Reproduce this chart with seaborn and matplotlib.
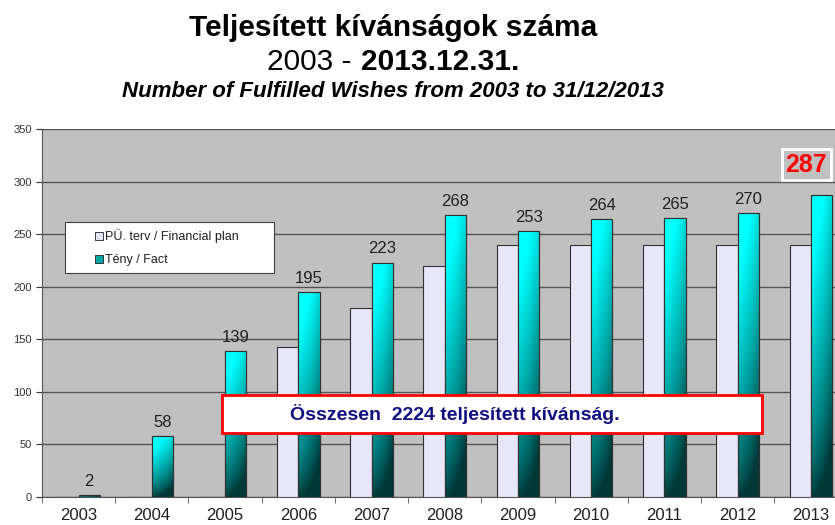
import numpy as np
import pandas as pd
import matplotlib
matplotlib.use('Agg')
import matplotlib.pyplot as plt
import seaborn as sns
from matplotlib.patches import Rectangle, Patch

years = ['2003', '2004', '2005', '2006', '2007', '2008', '2009', '2010', '2011', '2012', '2013']
terv = [0, 0, 0, 143, 180, 220, 240, 240, 240, 240, 240]
teny = [2, 58, 139, 195, 223, 268, 253, 264, 265, 270, 287]
lbl_terv = 'PÜ. terv / Financial plan'
lbl_teny = 'Tény / Fact'

df = pd.DataFrame({
    'ev': years * 2,
    'sor': [lbl_terv] * len(years) + [lbl_teny] * len(years),
    'db': terv + teny,
})

sns.set_style('white')
plt.rcParams['font.family'] = ['Liberation Sans', 'DejaVu Sans']

fig = plt.figure(figsize=(8.35, 5.25), dpi=100)
ax = fig.add_axes([0.0503, 0.0533, 0.9497, 0.701])
ax.set_facecolor('#c0c0c0')

sns.barplot(data=df, x='ev', y='db', hue='sor', hue_order=[lbl_terv, lbl_teny],
            palette={lbl_terv: '#e4e4fc', lbl_teny: '#00d8d8'},
            width=0.58, gap=0, edgecolor='#303030', linewidth=0.8,
            ax=ax, legend=False, zorder=3)

# gradient on the fact bars (cyan top -> dark teal bottom, darker on the right)
ny, nx = 120, 40
t = np.linspace(0, 1, ny)[:, None]
s = np.linspace(0, 1, nx)[None, :]
bright = np.array([0.0, 1.0, 1.0])
dark = np.array([0.0, 0.22, 0.22])
mix = np.clip(t ** 0.7 * 1.15 - 0.35 * s ** 1.5, 0, 1)
grad = (dark + (bright - dark) * mix[..., None])[::-1]

n = len(years)
fact_patches = ax.patches[n:2 * n]
for p in fact_patches:
    x0, y0 = p.get_x(), p.get_y()
    w, h = p.get_width(), p.get_height()
    im = ax.imshow(grad, extent=[x0, x0 + w, y0, y0 + h], aspect='auto', zorder=3.5)
    im.set_clip_path(p)
    ax.add_patch(Rectangle((x0, y0), w, h, fill=False, edgecolor='#303030',
                           linewidth=0.8, zorder=4))

# value labels
for i, v in enumerate(teny[:-1]):
    ax.text(i + 0.145, v + 6, str(v), ha='center', va='bottom', fontsize=12, color='#202020', zorder=5)
ax.text(9.94, 316, str(teny[-1]), ha='center', va='center', fontsize=18, fontweight='bold',
        color='#ff0000', zorder=6,
        bbox=dict(boxstyle='square,pad=0.15', facecolor='#c0c0c0', edgecolor='white', linewidth=2))

ax.set_xlim(-0.5, 10.33)
ax.set_ylim(0, 350)
ax.set_yticks(range(0, 351, 50))
ax.yaxis.grid(True, color='#555555', linewidth=1, zorder=0)
ax.set_axisbelow(True)
ax.set_xlabel('')
ax.set_ylabel('')
ax.tick_params(axis='y', labelsize=8, colors='#333333', length=4, direction='out', left=True, width=0.8)
ax.tick_params(axis='x', labelsize=12, colors='#202020', length=0, pad=8)
ax.set_xticks(np.arange(-0.5, 10.5, 1), minor=True)
ax.tick_params(axis='x', which='minor', length=4, direction='out', bottom=True, color='#555555')
for side in ['top', 'right']:
    ax.spines[side].set_visible(False)
for side in ['left', 'bottom']:
    ax.spines[side].set_color('#555555')
    ax.spines[side].set_linewidth(0.8)

# legend: white frame drawn separately, entries placed inside
ax.add_patch(Rectangle((0.029, 0.609), 0.264, 0.138, transform=ax.transAxes,
                       facecolor='white', edgecolor='#404040', linewidth=0.8, zorder=7))
handles = [Patch(facecolor='#e4e4fc', edgecolor='#202020', linewidth=0.6),
           Patch(facecolor='#00a8a8', edgecolor='#202020', linewidth=0.6)]
leg = ax.legend(handles, [lbl_terv, lbl_teny], loc='center left', bbox_to_anchor=(0.067, 0.677),
                fontsize=9, frameon=False, handlelength=0.6, handleheight=0.6,
                handletextpad=0.15, labelspacing=0.9, borderpad=0, borderaxespad=0)
leg.set_zorder(8)
for tx in leg.get_texts():
    tx.set_color('#202020')

# total box
ax.add_patch(Rectangle((0.227, 0.174), 0.681, 0.103, transform=ax.transAxes,
                       facecolor='white', edgecolor='#ff0000', linewidth=2, zorder=8))
ax.text(0.520, 0.2255, 'Összesen  2224 teljesített kívánság.', transform=ax.transAxes,
        ha='center', va='center', fontsize=14, fontweight='bold', color='#101080', zorder=9)

# titles
fig.text(0.471, 0.947, 'Teljesített kívánságok száma', ha='center', va='center',
         fontsize=21.5, fontweight='bold', color='black')
fig.text(267 / 835, 0.882, '2003 -', ha='left', va='center', fontsize=21.5, color='black')
fig.text(361 / 835, 0.882, '2013.12.31.', ha='left', va='center', fontsize=21.5,
         fontweight='bold', color='black')
fig.text(0.471, 0.825, 'Number of Fulfilled Wishes from 2003 to 31/12/2013', ha='center',
         va='center', fontsize=16, fontweight='bold', fontstyle='italic', color='black')

fig.savefig('out.png', dpi=100)
